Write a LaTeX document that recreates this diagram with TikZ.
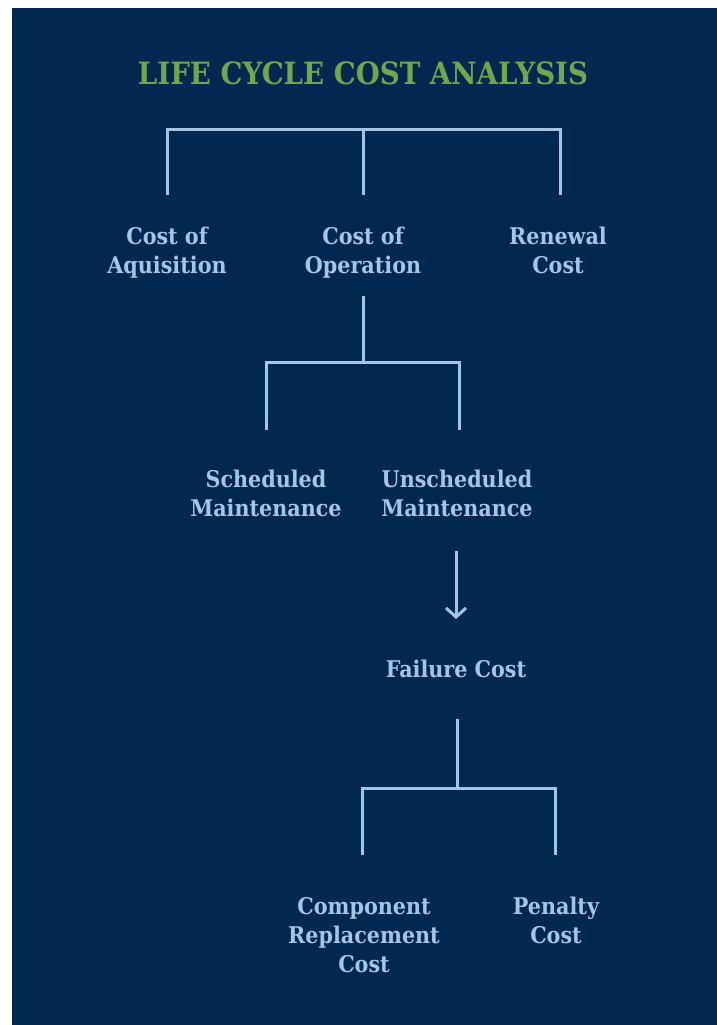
\documentclass[tikz,border=0pt]{standalone}
\usepackage{fontspec}
\setmainfont{DejaVu Serif Condensed}
\usetikzlibrary{arrows.meta}

\definecolor{navy}{RGB}{0,40,80}
\definecolor{paleblue}{RGB}{166,196,230}
\definecolor{leaf}{RGB}{108,168,76}

\tikzset{
  item/.style={text=paleblue, font=\bfseries\fontsize{23}{29}\selectfont, align=center,
    inner sep=0pt, anchor=north, execute at begin node={\vphantom{Af}}},
  heading/.style={text=leaf, font=\bfseries\fontsize{30.7}{34}\selectfont, inner sep=0pt},
  link/.style={draw=paleblue, line width=3pt},
}

\begin{document}
\begin{tikzpicture}[x=1pt,y=-1pt]
  % page and panel
  \fill[white] (0,0) rectangle (717,1025);
  \fill[navy] (12,8) rectangle (717,1025);
  \useasboundingbox (0,0) rectangle (717,1025);

  \node[heading] (title) at (363,73) {LIFE CYCLE COST ANALYSIS};

  % first level
  \node[item] (acq) at (167,227) {Cost of\\Aquisition};
  \node[item] (opr) at (363,227) {Cost of\\Operation};
  \node[item] (ren) at (558,227) {Renewal\\Cost};
  \coordinate (top-bar) at (363,129);
  \coordinate (acq-in) at (167,195);
  \coordinate (opr-in) at (363,195);
  \coordinate (ren-in) at (560,195);
  \draw[link] (acq-in) |- (top-bar) -| (ren-in);
  \draw[link] (top-bar) -- (opr-in);

  % maintenance
  \node[item] (sch) at (266,470) {Scheduled\\Maintenance};
  \node[item] (uns) at (457,470) {Unscheduled\\Maintenance};
  \coordinate (opr-out) at (363,296);
  \coordinate (mnt-bar) at (363,362);
  \coordinate (sch-in) at (266,430);
  \coordinate (uns-in) at (459,430);
  \draw[link] (opr-out) -- (mnt-bar);
  \draw[link] (sch-in) |- (mnt-bar) -| (uns-in);

  % failure
  \node[item] (fail) at (456,660) {Failure Cost};
  \coordinate (uns-out) at (456,551);
  \coordinate (fail-in) at (456,619);
  \draw[link, -{Straight Barb[length=9pt,width=20pt]}] (uns-out) -- (fail-in);

  % failure breakdown
  \node[item] (comp) at (364,897) {Component\\Replacement\\Cost};
  \node[item] (pen) at (556,897) {Penalty\\Cost};
  \coordinate (fail-out) at (457,719);
  \coordinate (fail-bar) at (457,788);
  \coordinate (comp-in) at (362,855);
  \coordinate (pen-in) at (555,855);
  \draw[link] (fail-out) -- (fail-bar);
  \draw[link] (comp-in) |- (fail-bar) -| (pen-in);
\end{tikzpicture}
\end{document}
